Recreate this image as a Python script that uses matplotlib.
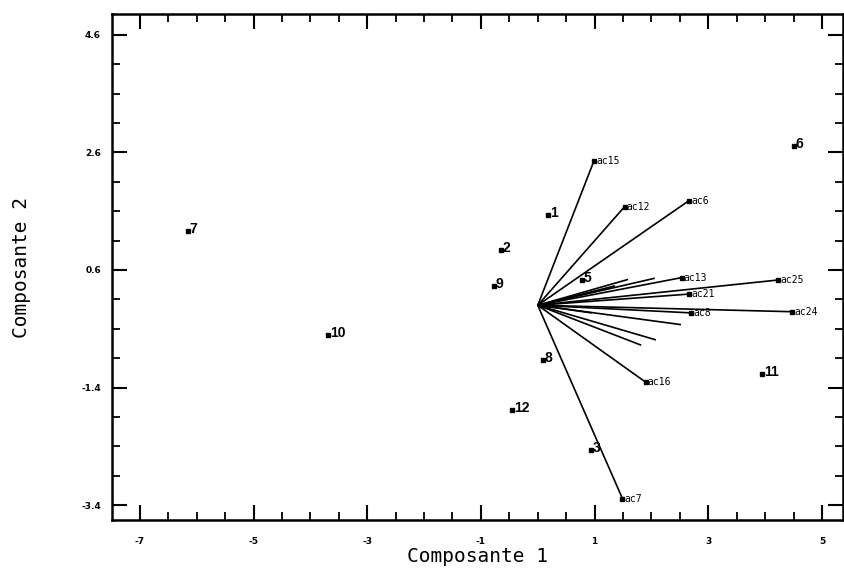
import numpy as np
import matplotlib
matplotlib.use("Agg")
import matplotlib.pyplot as plt
from matplotlib.ticker import MultipleLocator, FixedLocator

# individuals (scores on the first two components)
obs_labels = ["1", "2", "3", "5", "6", "7", "8", "9", "10", "11", "12"]
obs_x = [0.18, -0.65, 0.94, 0.78, 4.51, -6.16, 0.09, -0.77, -3.69, 3.95, -0.45]
obs_y = [1.54, 0.94, -2.46, 0.43, 2.71, 1.26, -0.93, 0.33, -0.51, -1.17, -1.78]

# variable vectors (labelled)
var_labels = ["ac15", "ac12", "ac6", "ac13", "ac25", "ac21", "ac24", "ac8", "ac16", "ac7"]
var_x = [0.99, 1.53, 2.66, 2.53, 4.23, 2.66, 4.47, 2.70, 1.90, 1.49]
var_y = [2.46, 1.68, 1.78, 0.47, 0.43, 0.19, -0.11, -0.13, -1.31, -3.29]

# variable vectors without labels (the short ones in the fan)
short_x = [1.59, 2.06, 2.52, 2.08, 1.82, 0.95, 1.36]
short_y = [0.44, 0.46, -0.33, -0.59, -0.68, -0.13, 0.33]

x_major = [-7, -5, -3, -1, 1, 3, 5]
y_major = [-3.4, -1.4, 0.6, 2.6, 4.6]

fig = plt.figure(figsize=(8.45, 5.83), dpi=100)
ax = fig.add_axes([112 / 845, 1 - 520 / 583, (843 - 112) / 845, (520 - 14) / 583])

for vx, vy in zip(var_x + short_x, var_y + short_y):
    ax.plot([0, vx], [0, vy], color="black", lw=1.2, solid_capstyle="butt")

ax.plot(var_x, var_y, "s", color="black", ms=2.5, ls="none")
for lab, vx, vy in zip(var_labels, var_x, var_y):
    ax.annotate(lab, (vx, vy), xytext=(1.5, 0), textcoords="offset points",
                fontsize=7, family="DejaVu Sans Mono", va="center", ha="left")

ax.plot(obs_x, obs_y, "s", color="black", ms=2.2, ls="none")
for lab, ox, oy in zip(obs_labels, obs_x, obs_y):
    ax.annotate(lab, (ox, oy), xytext=(1.2, -1.5), textcoords="offset points",
                fontsize=10, fontweight="bold", family="Liberation Sans",
                va="baseline", ha="left")

ax.set_xlim(-7.49, 5.37)
ax.set_ylim(-3.655, 4.957)
ax.xaxis.set_major_locator(FixedLocator(x_major))
ax.yaxis.set_major_locator(FixedLocator(y_major))
ax.xaxis.set_minor_locator(MultipleLocator(0.5))
ax.yaxis.set_minor_locator(FixedLocator(np.arange(-3.4, 4.9, 0.5)))
ax.set_xticklabels([str(v) for v in x_major])
ax.set_yticklabels([f"{v:.1f}" for v in y_major])

ax.tick_params(which="major", direction="in", length=11, width=1.5,
               top=True, right=True, labelsize=6.5, pad=12)
ax.tick_params(which="minor", direction="in", length=6, width=1.3,
               top=True, right=True)
for t in ax.get_xticklabels() + ax.get_yticklabels():
    t.set_fontweight("bold")
ax.tick_params(axis="y", pad=8)

for sp in ax.spines.values():
    sp.set_linewidth(1.8)

ax.set_xlabel("Composante 1", family="DejaVu Sans Mono", fontsize=14, labelpad=1)
ax.set_ylabel("Composante 2", family="DejaVu Sans Mono", fontsize=14, labelpad=36)

fig.savefig("out.png", dpi=100)
